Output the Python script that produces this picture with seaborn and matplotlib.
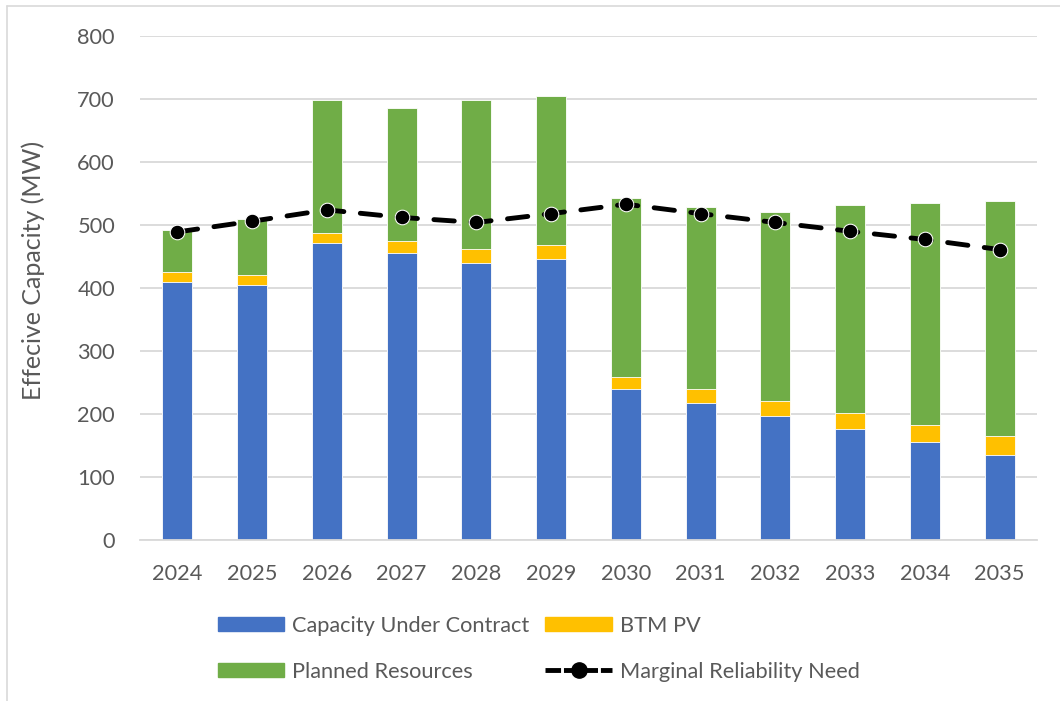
import matplotlib.pyplot as plt
import matplotlib.patches as mpatches
from matplotlib.lines import Line2D
import numpy as np
import pandas as pd
import seaborn as sns

years = ["2024", "2025", "2026", "2027", "2028", "2029",
         "2030", "2031", "2032", "2033", "2034", "2035"]
contract = [410, 405, 472, 456, 440, 446, 239, 218, 197, 176, 155, 135]
btm_pv = [15, 15, 15, 19, 22, 22, 20, 22, 23, 26, 28, 30]
planned = [67, 89, 211, 211, 236, 237, 284, 289, 301, 329, 352, 373]
need = [489, 506, 524, 512, 504, 518, 533, 518, 504, 490, 477, 461]

BLUE, YELLOW, GREEN = "#4472C4", "#FFC000", "#70AD47"
GRAY_TXT = "#595959"
GRID = "#D9D9D9"
FS = 15.7

df = pd.DataFrame({"year": years, "contract": contract, "btm": btm_pv, "planned": planned, "need": need})
df["top_btm"] = df["contract"] + df["btm"]
df["total"] = df["top_btm"] + df["planned"]

sns.set_style("white")
plt.rcParams["font.family"] = ["Lato", "DejaVu Sans"]

fig = plt.figure(figsize=(10.6, 7.01), dpi=100)
ax = fig.add_axes([140 / 1060, 1 - 540 / 701, 897 / 1060, 504 / 701])

# stacked bars drawn as cumulative totals, tallest first
bar_kw = dict(width=0.4, edgecolor="white", linewidth=0.6, zorder=2)
sns.barplot(data=df, x="year", y="total", color=GREEN, saturation=1, ax=ax, **bar_kw)
sns.barplot(data=df, x="year", y="top_btm", color=YELLOW, saturation=1, ax=ax, **bar_kw)
sns.barplot(data=df, x="year", y="contract", color=BLUE, saturation=1, ax=ax, **bar_kw)

sns.lineplot(x=np.arange(len(years)), y=df["need"], color="black", marker="o",
             markersize=10.5, linewidth=3.5, linestyle=(0, (4.2, 3.4)),
             dash_capstyle="round", ax=ax, zorder=3)

ax.set_xlim(-0.5, len(years) - 0.5)
ax.set_ylim(0, 800)
ax.set_yticks(range(0, 801, 100))
ax.grid(axis="y", color=GRID, linewidth=1.3, zorder=0)
ax.set_axisbelow(True)
for s in ["top", "right", "left"]:
    ax.spines[s].set_visible(False)
ax.spines["bottom"].set_color(GRID)
ax.spines["bottom"].set_linewidth(1.3)
ax.tick_params(axis="x", length=0, pad=17, labelsize=FS, labelcolor=GRAY_TXT)
ax.tick_params(axis="y", length=0, pad=18, labelsize=FS, labelcolor=GRAY_TXT)
ax.set_xlabel("")
ax.set_ylabel("Effecive Capacity (MW)", fontsize=18, color=GRAY_TXT)
ax.yaxis.set_label_coords(-0.106, 0.535)

handles = [
    mpatches.Patch(color=BLUE, label="Capacity Under Contract"),
    mpatches.Patch(color=GREEN, label="Planned Resources"),
    mpatches.Patch(color=YELLOW, label="BTM PV"),
    Line2D([], [], color="black", marker="o", markersize=11, linewidth=3.5,
           linestyle=(0, (3.2, 0.6)), label="Marginal Reliability Need"),
]
leg = fig.legend(handles=handles, ncol=2, loc="upper left",
                 bbox_to_anchor=(198 / 1060, 1 - 596 / 701), frameon=False,
                 fontsize=FS, handlelength=3.05, handleheight=0.64, handletextpad=0.35,
                 columnspacing=0.75, labelspacing=1.2)
for t in leg.get_texts():
    t.set_color(GRAY_TXT)

# thin frame on top and left, as in the source export
fig.add_artist(Line2D([7 / 1060, 7 / 1060], [0, 1 - 6 / 701], color=GRID, linewidth=1.2))
fig.add_artist(Line2D([7 / 1060, 1], [1 - 6 / 701, 1 - 6 / 701], color=GRID, linewidth=1.2))

fig.savefig("out.png", dpi=100)
